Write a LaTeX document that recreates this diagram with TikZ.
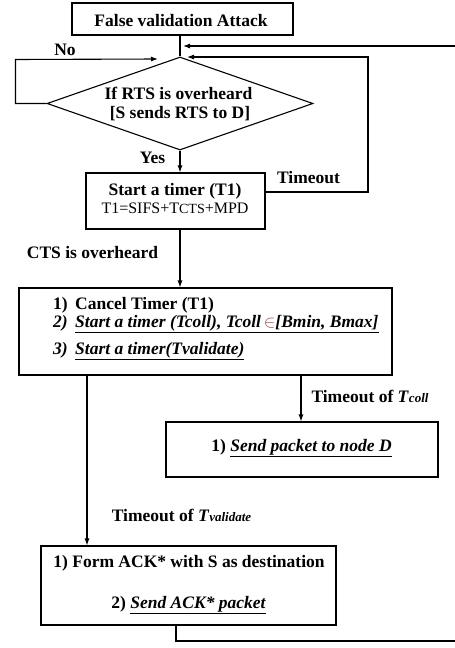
\documentclass[tikz,border=0pt]{standalone}
\usepackage{fontspec}
\setmainfont{Liberation Serif}
\usetikzlibrary{arrows.meta,shapes.geometric}
\begin{document}
\begin{tikzpicture}[x=1pt,y=-1pt,
  box/.style={draw, line width=1.1pt, inner sep=0pt, minimum width=#1},
  arr/.style={-{Latex[length=7pt,width=5pt]}, line width=1.1pt},
  ln/.style={line width=1.1pt},
  txt/.style={anchor=base, inner sep=0pt, font=\fontsize{17.5}{20}\selectfont\bfseries},
  txtw/.style={anchor=base west, inner sep=0pt, font=\fontsize{17.5}{20}\selectfont\bfseries}]
\useasboundingbox (0,0) rectangle (455,648);
\clip (0,0) rectangle (455,648);
% boxes
\node[box=221pt, minimum height=32pt] (top) at (182.5,19) {};
\node[draw, line width=1.1pt, diamond, inner sep=0pt, minimum width=266pt, minimum height=93pt] (dia) at (180,103.5) {};
\node[box=179pt, minimum height=56pt] (timer) at (175.5,201) {};
\node[box=373pt, minimum height=87pt] (b3) at (205.5,331.5) {};
\node[box=272pt, minimum height=55pt] (b4) at (302,449.5) {};
\node[box=295pt, minimum height=79pt] (b5) at (188.5,585.5) {};
% texts
\node[txt] (t1) at (181,26) {False validation Attack};
\node[txt] (t2) at (178.5,99) {If RTS is overheard};
\node[txt] (t3) at (180,118) {[S sends RTS to D]};
\node[txt] (t4) at (175,195) {Start a timer (T1)};
\node[txt, font=\fontsize{16}{18}\selectfont] (t5) at (175,213) {T1=SIFS+T{\fontsize{14}{16}\selectfont CTS}+MPD};
\node[txtw] (t6) at (53,309) {\makebox[22pt][l]{1)}Cancel Timer (T1)};
\node[txtw] (t7) at (53,327) {\itshape\makebox[22pt][l]{2)}\underline{Start a timer (Tcoll), Tcoll\,{\color[RGB]{160,70,70}$\in$}[Bmin, Bmax]}};
\node[txtw] (t8) at (53,354) {\itshape\makebox[22pt][l]{3)}\underline{Start a timer(Tvalidate)}};
\node[txt] (t9) at (301.5,451) {1) \underline{\itshape Send packet to node D}};
\node[txt] (t10) at (189,567) {1) Form ACK* with S as destination};
\node[txt] (t11) at (188.5,608) {2) \underline{\itshape Send ACK* packet}};
% labels
\node[txt] (lno) at (65,55) {No};
\node[txt] (lyes) at (152.5,163) {Yes};
\node[txt] (lto) at (308.5,183) {Timeout};
\node[txt] (lcts) at (92.5,258) {CTS is overheard};
\node[txt] (ltc) at (370,402) {Timeout of \textit{T}{\fontsize{13}{15}\selectfont\itshape coll}};
\node[txt] (ltv) at (181.5,521) {Timeout of \textit{T}{\fontsize{13}{15}\selectfont\itshape validate}};
% coordinates
\coordinate (noend) at (158,59);
\coordinate (toend) at (187,57);
\coordinate (loopend) at (183,46);
\coordinate (tc) at (301,0);
\coordinate (tv) at (87,0);
\coordinate (lp) at (176,0);
% connectors
\draw[ln] (top.south -| dia.north) -- (dia.north);
\draw[arr] (dia.west) -| ++(-31,-44) -- (noend);
\draw[arr] ([yshift=9pt]timer.east) -| (368,57) -- (toend);
\draw[arr] (dia.south) -- (dia.south |- timer.north);
\draw[arr] (dia.south |- timer.south) -- (dia.south |- b3.north);
\draw[arr] (b3.south -| tc) -- (tc |- b4.north);
\draw[arr] (b3.south -| tv) -- (tv |- b5.north);
\draw[arr] (b5.south -| lp) |- (470,641) |- (loopend);
\end{tikzpicture}
\end{document}
